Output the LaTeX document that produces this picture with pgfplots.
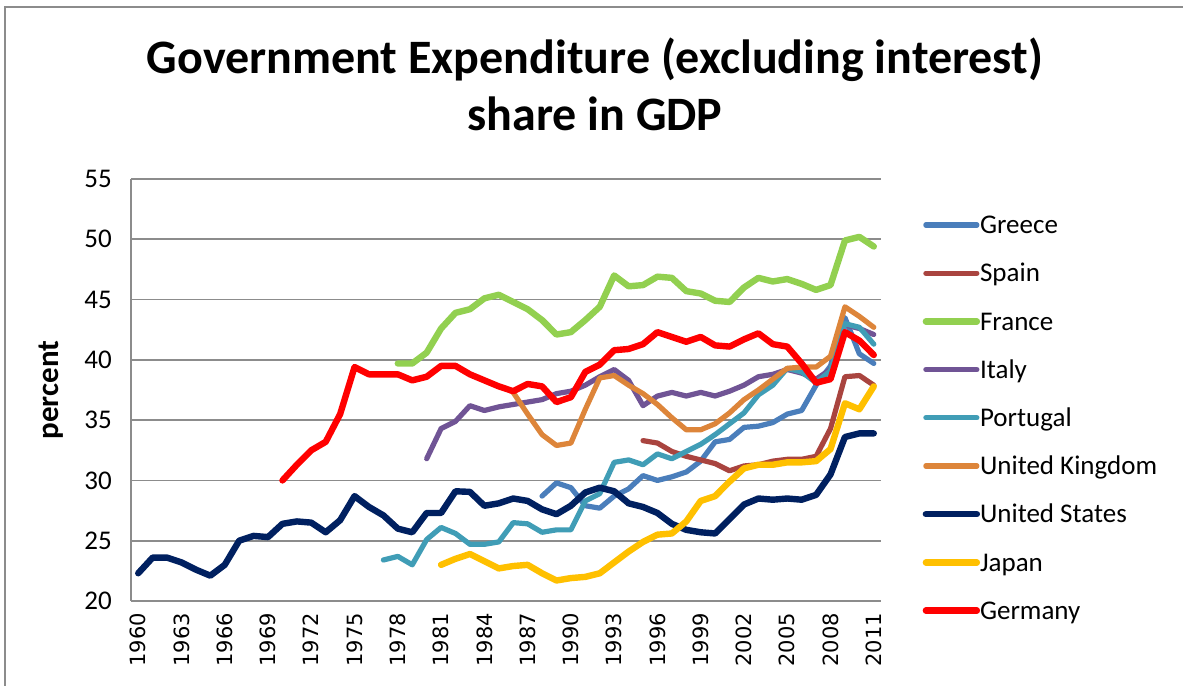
\documentclass[border=0pt]{standalone}
\usepackage{pgfplots}
\pgfplotsset{compat=1.18}
\usepackage{fontspec}
\setmainfont{Carlito}
\newfontfamily\dejavu{DejaVu Sans}
\definecolor{cgreece}{HTML}{4A7EBB}
\definecolor{cspain}{HTML}{A9443F}
\definecolor{cfrance}{HTML}{92D050}
\definecolor{citaly}{HTML}{705495}
\definecolor{cportugal}{HTML}{409DB6}
\definecolor{cuk}{HTML}{DD853A}
\definecolor{cus}{HTML}{002060}
\definecolor{cjapan}{HTML}{FFC000}
\definecolor{cgermany}{HTML}{FF0000}
\definecolor{gridg}{HTML}{8C8C8C}
\begin{document}
\begin{tikzpicture}
\path[use as bounding box] (0,0) rectangle (1183bp,686bp);
\draw[color=gridg, line width=2bp] (5bp,0) -- (5bp,679bp) -- (1183bp,679bp);
\node[font=\bfseries\fontsize{48bp}{48bp}\selectfont, anchor=base, inner sep=0pt] at (595bp,612bp) {Government Expenditure (excluding interest)};
\node[font=\bfseries\fontsize{48bp}{48bp}\selectfont, anchor=base, inner sep=0pt] at (595bp,555bp) {share in GDP};
\begin{axis}[
  at={(131bp,85bp)}, anchor=south west,
  scale only axis, width=750bp, height=422bp,
  xmin=1959.5, xmax=2011.5, ymin=20, ymax=55,
  xtick={1960,1963,1966,1969,1972,1975,1978,1981,1984,1987,1990,1993,1996,1999,2002,2005,2008,2011},
  xticklabels={1960,1963,1966,1969,1972,1975,1978,1981,1984,1987,1990,1993,1996,1999,2002,2005,2008,2011},
  ytick={20,25,30,35,40,45,50,55},
  ymajorgrids, grid style={color=gridg, line width=1.8bp},
  axis x line*=bottom, axis y line*=left,
  axis line style={color=gridg, line width=1.8bp},
  major tick length=0pt,
  /pgf/number format/assume math mode=true,
  x tick label style={font=\dejavu\fontsize{21bp}{21bp}\selectfont, rotate=90, anchor=east, inner xsep=12bp, inner ysep=0pt},
  y tick label style={font=\fontsize{27bp}{27bp}\selectfont, anchor=east, inner xsep=19bp, inner ysep=0pt},
  ylabel={percent},
  ylabel style={font=\bfseries\fontsize{31bp}{31bp}\selectfont, at={(axis description cs:-0.1067,0.5)}, anchor=center, inner sep=0pt},
  legend image code/.code={\draw[#1, line cap=round] (0bp,8.6bp) -- (51bp,8.6bp);},
  legend style={draw=none, fill=none, at={(1.0553,0.9137)}, anchor=north west, inner sep=0pt, row sep=24.2bp,
    font=\fontsize{27bp}{27bp}\selectfont,
    nodes={inner sep=0pt, text height=18bp, text depth=6bp},
    cells={anchor=base west},
    /tikz/every even column/.append style={column sep=6.5bp}},
  every axis plot/.append style={line cap=round, line join=round},
]
\addplot[cgreece, line width=5.2bp] coordinates {(1988,28.7)(1989,29.8)(1990,29.4)(1991,27.9)(1992,27.7)(1993,28.7)(1994,29.3)(1995,30.4)(1996,30.0)(1997,30.3)(1998,30.7)(1999,31.6)(2000,33.2)(2001,33.4)(2002,34.4)(2003,34.5)(2004,34.8)(2005,35.5)(2006,35.8)(2007,37.9)(2008,39.5)(2009,43.5)(2010,40.5)(2011,39.7)};
\addlegendentry{Greece}
\addplot[cspain, line width=5.2bp] coordinates {(1995,33.3)(1996,33.1)(1997,32.4)(1998,32.0)(1999,31.7)(2000,31.4)(2001,30.8)(2002,31.2)(2003,31.3)(2004,31.6)(2005,31.75)(2006,31.75)(2007,32.0)(2008,34.3)(2009,38.6)(2010,38.7)(2011,37.9)};
\addlegendentry{Spain}
\addplot[cfrance, line width=6.4bp] coordinates {(1978,39.7)(1979,39.7)(1980,40.6)(1981,42.6)(1982,43.9)(1983,44.2)(1984,45.1)(1985,45.4)(1986,44.8)(1987,44.2)(1988,43.3)(1989,42.1)(1990,42.3)(1991,43.3)(1992,44.4)(1993,47.0)(1994,46.1)(1995,46.2)(1996,46.9)(1997,46.8)(1998,45.7)(1999,45.5)(2000,44.9)(2001,44.8)(2002,46.0)(2003,46.8)(2004,46.5)(2005,46.7)(2006,46.3)(2007,45.8)(2008,46.2)(2009,49.9)(2010,50.2)(2011,49.4)};
\addlegendentry{France}
\addplot[citaly, line width=5.2bp] coordinates {(1980,31.8)(1981,34.3)(1982,34.9)(1983,36.2)(1984,35.8)(1985,36.1)(1986,36.3)(1987,36.5)(1988,36.7)(1989,37.2)(1990,37.4)(1991,37.9)(1992,38.6)(1993,39.2)(1994,38.3)(1995,36.2)(1996,37.0)(1997,37.3)(1998,37.0)(1999,37.3)(2000,37.0)(2001,37.4)(2002,37.9)(2003,38.6)(2004,38.8)(2005,39.2)(2006,38.9)(2007,38.4)(2008,39.2)(2009,42.9)(2010,42.6)(2011,42.1)};
\addlegendentry{Italy}
\addplot[cportugal, line width=5.2bp] coordinates {(1977,23.4)(1978,23.7)(1979,23.0)(1980,25.1)(1981,26.1)(1982,25.6)(1983,24.7)(1984,24.7)(1985,24.9)(1986,26.5)(1987,26.4)(1988,25.7)(1989,25.9)(1990,25.9)(1991,28.3)(1992,28.9)(1993,31.5)(1994,31.7)(1995,31.3)(1996,32.2)(1997,31.8)(1998,32.4)(1999,33.0)(2000,33.8)(2001,34.7)(2002,35.6)(2003,37.1)(2004,37.9)(2005,39.3)(2006,39.0)(2007,38.1)(2008,39.1)(2009,43.0)(2010,42.7)(2011,41.3)};
\addlegendentry{Portugal}
\addplot[cuk, line width=5.2bp] coordinates {(1986,37.3)(1987,35.5)(1988,33.8)(1989,32.9)(1990,33.1)(1991,35.9)(1992,38.5)(1993,38.7)(1994,37.9)(1995,37.2)(1996,36.3)(1997,35.2)(1998,34.2)(1999,34.2)(2000,34.7)(2001,35.6)(2002,36.7)(2003,37.5)(2004,38.4)(2005,39.3)(2006,39.4)(2007,39.4)(2008,40.3)(2009,44.4)(2010,43.6)(2011,42.7)};
\addlegendentry{United Kingdom}
\addplot[cus, line width=6.4bp] coordinates {(1960,22.3)(1961,23.6)(1962,23.6)(1963,23.2)(1964,22.6)(1965,22.1)(1966,23.0)(1967,25.0)(1968,25.4)(1969,25.3)(1970,26.4)(1971,26.6)(1972,26.5)(1973,25.7)(1974,26.7)(1975,28.7)(1976,27.8)(1977,27.1)(1978,26.0)(1979,25.7)(1980,27.3)(1981,27.3)(1982,29.1)(1983,29.05)(1984,27.9)(1985,28.1)(1986,28.5)(1987,28.3)(1988,27.6)(1989,27.2)(1990,27.9)(1991,29.0)(1992,29.4)(1993,29.1)(1994,28.1)(1995,27.8)(1996,27.3)(1997,26.4)(1998,25.9)(1999,25.7)(2000,25.6)(2001,26.8)(2002,28.0)(2003,28.5)(2004,28.4)(2005,28.5)(2006,28.4)(2007,28.8)(2008,30.5)(2009,33.6)(2010,33.9)(2011,33.9)};
\addlegendentry{United States}
\addplot[cjapan, line width=6.4bp] coordinates {(1981,23.0)(1982,23.5)(1983,23.9)(1984,23.3)(1985,22.7)(1986,22.9)(1987,23.0)(1988,22.3)(1989,21.7)(1990,21.9)(1991,22.0)(1992,22.3)(1993,23.2)(1994,24.1)(1995,24.9)(1996,25.5)(1997,25.6)(1998,26.6)(1999,28.3)(2000,28.7)(2001,29.9)(2002,31.0)(2003,31.3)(2004,31.3)(2005,31.5)(2006,31.5)(2007,31.6)(2008,32.6)(2009,36.4)(2010,35.9)(2011,37.8)};
\addlegendentry{Japan}
\addplot[cgermany, line width=6.4bp] coordinates {(1970,30.0)(1971,31.3)(1972,32.5)(1973,33.2)(1974,35.5)(1975,39.4)(1976,38.8)(1977,38.8)(1978,38.8)(1979,38.3)(1980,38.6)(1981,39.5)(1982,39.5)(1983,38.8)(1984,38.3)(1985,37.8)(1986,37.4)(1987,38.0)(1988,37.8)(1989,36.5)(1990,36.9)(1991,39.0)(1992,39.6)(1993,40.8)(1994,40.9)(1995,41.3)(1996,42.3)(1997,41.9)(1998,41.5)(1999,41.9)(2000,41.2)(2001,41.1)(2002,41.7)(2003,42.2)(2004,41.3)(2005,41.1)(2006,39.7)(2007,38.1)(2008,38.4)(2009,42.3)(2010,41.6)(2011,40.4)};
\addlegendentry{Germany}
\end{axis}
\end{tikzpicture}
\end{document}
